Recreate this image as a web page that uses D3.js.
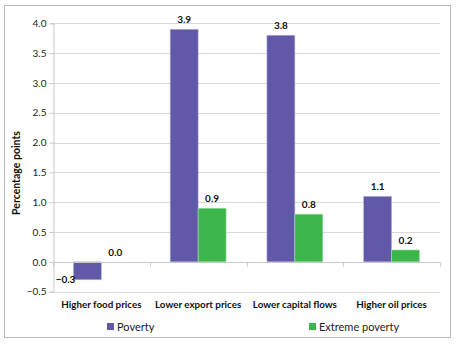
<!DOCTYPE html>
<html><head><meta charset="utf-8">
<script src="https://cdn.jsdelivr.net/npm/d3@7"></script>
<style>body{margin:0;background:#fff}svg{display:block}text{font-family:Lato,"Open Sans",sans-serif}</style>
</head><body>
<script>
const categories = ["Higher food prices","Lower export prices","Lower capital flows","Higher oil prices"];
const poverty = [-0.3, 3.9, 3.8, 1.1];
const extremePoverty = [0.0, 0.9, 0.8, 0.2];
const seriesNames = ["Poverty","Extreme poverty"];
const colors = ["#5f59a7","#3cb64b"];
const yTicks = [-0.5,0,0.5,1,1.5,2,2.5,3,3.5,4];

const W=456,H=347;
const svg=d3.select("body").append("svg").attr("width",W).attr("height",H);
svg.append("rect").attr("x",4.5).attr("y",5.5).attr("width",446).attr("height",332)
  .attr("fill","#fff").attr("stroke","#b8b8b8").attr("stroke-width",1);

const L=53,R=440,T=23.3,B=291.7;
const y=d3.scaleLinear().domain([-0.5,4]).range([B,T]);
const x=d3.scaleBand().domain(categories).range([L,R]).paddingInner(0).paddingOuter(0);
const xs=d3.scaleBand().domain(seriesNames).range([0,x.bandwidth()]).paddingInner(0).paddingOuter(0.73);

// gridlines
svg.append("g").selectAll("line").data(yTicks).join("line")
  .attr("x1",L).attr("x2",R).attr("y1",d=>Math.round(y(d))+0.5).attr("y2",d=>Math.round(y(d))+0.5)
  .attr("stroke","#d9d9d9");
// y axis
const ya=svg.append("g").attr("transform",`translate(${L+0.5},0)`)
  .call(d3.axisLeft(y).tickValues(yTicks).tickFormat(d3.format(".1f")).tickSize(4).tickPadding(3));
ya.select(".domain").attr("stroke","#c8c8c8");
ya.selectAll(".tick line").attr("stroke","#c8c8c8");
ya.selectAll("text").attr("font-size",10).attr("fill","#222").attr("font-family","'Open Sans',sans-serif");

// bars
const data=categories.map((c,i)=>({c,vals:[poverty[i],extremePoverty[i]]}));
const g=svg.append("g");
data.forEach(d=>{
  d.vals.forEach((v,j)=>{
    const bx=x(d.c)+xs(seriesNames[j]);
    if(v!==0){
      g.append("rect").attr("x",bx).attr("width",xs.bandwidth())
        .attr("y",y(Math.max(0,v))).attr("height",Math.abs(y(v)-y(0)))
        .attr("fill",colors[j]).attr("stroke-width",0.6)
        .attr("stroke",j===0?"#b9b5dd":"#a9e0b0");
    }
    const lbl=g.append("text").attr("font-size",10).attr("font-weight","bold").attr("fill","#111")
      .text(d3.format(".1f")(v));
    if(v<0){
      lbl.attr("x",bx+2).attr("y",y(v)+3.5).attr("text-anchor","end");
    } else {
      lbl.attr("x",bx+xs.bandwidth()/2).attr("y",y(v)-6).attr("text-anchor","middle");
    }
  });
});

// zero axis with ticks
const z=Math.round(y(0))+0.5;
svg.append("line").attr("x1",L).attr("x2",R).attr("y1",z).attr("y2",z).attr("stroke","#c8c8c8");
const bounds=categories.map(c=>x(c)).concat([R]);
svg.append("g").selectAll("line").data(bounds).join("line")
  .attr("x1",d=>Math.round(d)+0.5).attr("x2",d=>Math.round(d)+0.5).attr("y1",z).attr("y2",z+4).attr("stroke","#c8c8c8");

// category labels
svg.append("g").selectAll("text").data(categories).join("text")
  .attr("x",d=>x(d)+x.bandwidth()/2).attr("y",308).attr("text-anchor","middle")
  .attr("font-size",9.8).attr("font-weight","bold").attr("fill","#111").text(d=>d);

// y title
svg.append("text").attr("transform","translate(20,173) rotate(-90)").attr("text-anchor","middle")
  .attr("font-size",10.5).attr("font-weight","bold").attr("fill","#111").text("Percentage points");

// legend
const legX=[107,309];
seriesNames.forEach((s,j)=>{
  svg.append("rect").attr("x",legX[j]).attr("y",323).attr("width",7).attr("height",7).attr("fill",colors[j]);
  svg.append("text").attr("x",legX[j]+10).attr("y",330.5).attr("font-size",11).attr("fill","#222").text(s);
});
</script>
</body></html>
